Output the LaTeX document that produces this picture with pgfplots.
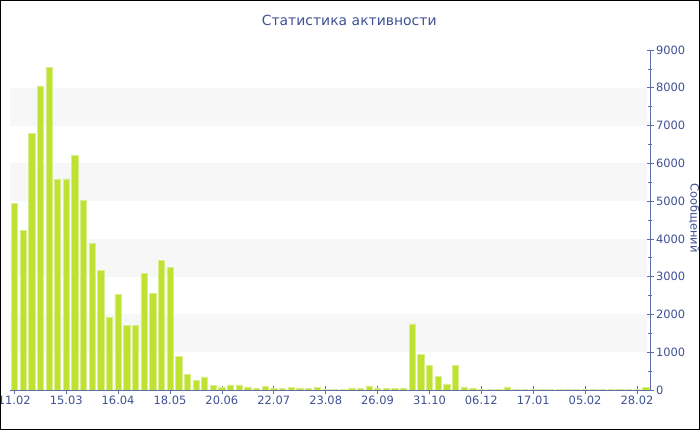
\documentclass[border=0pt]{standalone}
\usepackage{pgfplots}
\pgfplotsset{compat=1.18}
\usepackage{fontspec}
\setmainfont{DejaVu Sans}
\definecolor{barc}{RGB}{190,225,50}
\definecolor{txt}{RGB}{62,80,150}
\definecolor{axc}{RGB}{95,110,170}
\definecolor{band}{RGB}{247,247,247}
\begin{document}
\begin{tikzpicture}
\path[use as bounding box] (0,0) rectangle (700bp,430bp);
\begin{axis}[
  at={(10bp,40bp)}, anchor=south west,
  scale only axis, width=640bp, height=340bp,
  xmin=-0.5, xmax=73.5, ymin=0, ymax=9000,
  axis x line*=bottom, axis y line*=right,
  axis line style={axc, line width=0.8bp},
  ytick={0,1000,...,9000}, minor y tick num=1,
  xtick={0,6,...,72},
  xticklabels={11.02,15.03,16.04,18.05,20.06,22.07,23.08,26.09,31.10,06.12,17.01,05.02,28.02},
  tick style={axc, line width=0.6bp},
  tick align=center, major tick length=7bp, minor tick length=4bp,
  ticklabel style={text=txt, font=\fontsize{11.5}{13}\selectfont},
  /pgf/number format/assume math mode=true,
  scaled y ticks=false,
  yticklabel style={/pgf/number format/1000 sep={}, xshift=-1bp},
  xticklabel style={yshift=1bp},
  title={Статистика активности},
  title style={text=txt, font=\fontsize{14}{16}\selectfont, at={(axis description cs:0.53,1)}, anchor=base, yshift=18.5bp},
  ylabel={Сообщений},
  ylabel style={text=txt, font=\fontsize{11.5}{13}\selectfont, at={(axis description cs:1.069,0.506)}, rotate=180, anchor=center},
]
\fill[band] (axis cs:-0.5,1000) rectangle (axis cs:73.2,2000);
\fill[band] (axis cs:-0.5,3000) rectangle (axis cs:73.2,4000);
\fill[band] (axis cs:-0.5,5000) rectangle (axis cs:73.2,6000);
\fill[band] (axis cs:-0.5,7000) rectangle (axis cs:73.2,8000);
\addplot[ybar, bar width=6.3bp, fill=barc, draw=barc!55!white, line width=0.5bp] table {
x y
0 4950
1 4220
2 6790
3 8050
4 8550
5 5580
6 5590
7 6220
8 5020
9 3890
10 3170
11 1920
12 2540
13 1710
14 1710
15 3090
16 2560
17 3430
18 3240
19 890
20 420
21 260
22 350
23 130
24 80
25 135
26 135
27 85
28 45
29 88
30 45
31 45
32 79
33 45
34 45
35 70
36 20
37 20
38 26
39 53
40 44
41 110
42 44
43 44
44 40
45 44
46 1750
47 945
48 660
49 370
50 160
51 645
52 80
53 44
54 26
55 26
56 26
57 80
58 22
59 22
60 22
61 20
62 20
63 20
64 22
65 20
66 20
67 22
68 20
69 20
70 20
71 22
72 20
73 60
};
\end{axis}
\draw[black, line width=1.6bp] (0,0) rectangle (700bp,430bp);
\end{tikzpicture}
\end{document}
